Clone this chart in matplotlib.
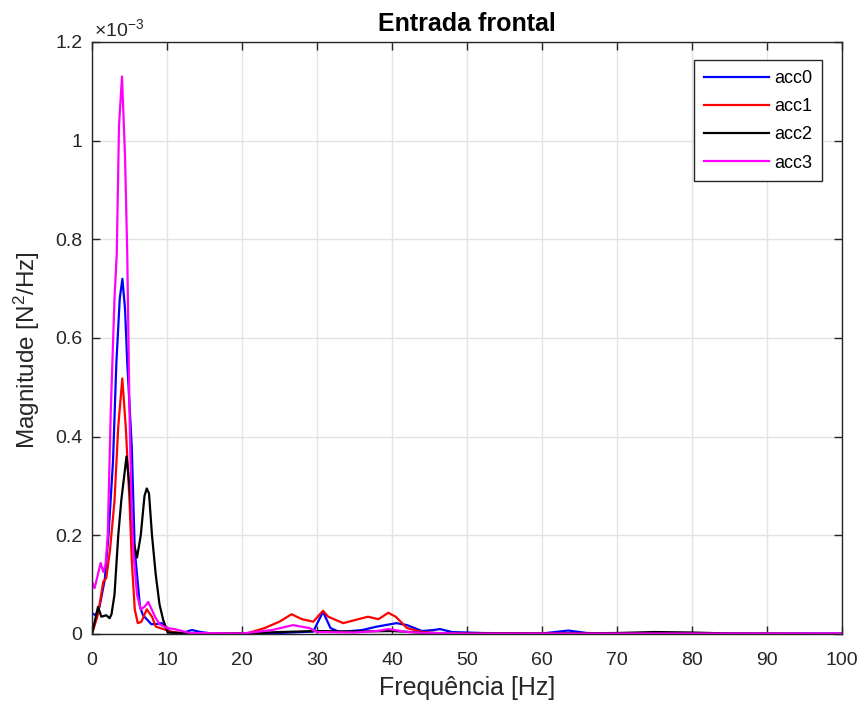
import matplotlib

matplotlib.use("Agg")
import matplotlib.pyplot as plt
from matplotlib.ticker import FuncFormatter, MultipleLocator

plt.rcParams["font.family"] = ["Liberation Sans", "DejaVu Sans"]
plt.rcParams["mathtext.fontset"] = "custom"
plt.rcParams["mathtext.rm"] = "Liberation Sans"
plt.rcParams["mathtext.it"] = "Liberation Sans:italic"

# PSD estimates, magnitude in units of 1e-3 N^2/Hz
f_acc0 = [0, 0.5, 1.0, 1.7, 2.2, 2.8, 3.25, 3.7, 4.05, 4.4, 4.7, 5.3, 5.7, 6.4, 6.8, 7.3,
          7.9, 8.5, 9.3, 10.0, 10.6, 12, 13.3, 14.5, 16, 20, 25, 29.5, 30.8, 31.8, 33, 36,
          38, 40.6, 42, 44, 45.5, 46.4, 48, 52, 60, 63.5, 66, 70, 100]
acc0 = [0.042, 0.038, 0.055, 0.11, 0.2, 0.35, 0.55, 0.68, 0.72, 0.66, 0.55, 0.38, 0.17, 0.055, 0.038, 0.03,
        0.02, 0.02, 0.022, 0.01, 0.002, 0.002, 0.008, 0.004, 0.001, 0.001, 0.002, 0.005, 0.045, 0.012, 0.004, 0.008,
        0.015, 0.022, 0.018, 0.006, 0.008, 0.01, 0.004, 0.002, 0.001, 0.007, 0.002, 0.001, 0.001]

f_acc1 = [0, 0.8, 1.5, 1.9, 2.4, 3.0, 3.5, 4.04, 4.5, 5.0, 5.3, 5.7, 6.1, 6.6, 7.3, 8.0,
          8.5, 9.5, 10.5, 12, 20.6, 23, 25, 26.6, 28, 29.5, 30.8, 31.5, 33.5, 35.5, 36.8, 38.2,
          39.5, 40.5, 42, 44, 47, 100]
acc1 = [0.0, 0.04, 0.106, 0.113, 0.17, 0.27, 0.42, 0.518, 0.42, 0.27, 0.15, 0.05, 0.022, 0.025, 0.05, 0.035,
        0.015, 0.01, 0.005, 0.001, 0.001, 0.012, 0.025, 0.04, 0.03, 0.025, 0.047, 0.035, 0.022, 0.03, 0.035, 0.03,
        0.043, 0.035, 0.012, 0.004, 0.001, 0.0]

f_acc2 = [0, 0.8, 1.25, 1.9, 2.35, 2.6, 3.0, 3.5, 3.9, 4.6, 5.0, 5.5, 6.0, 6.5, 7.0, 7.3,
          7.6, 8.0, 8.5, 9.0, 9.5, 10.1, 15, 20, 25, 30, 35, 40, 45, 60, 70, 75, 80, 85, 100]
acc2 = [0.0, 0.055, 0.035, 0.038, 0.032, 0.04, 0.08, 0.2, 0.27, 0.36, 0.3, 0.19, 0.155, 0.2, 0.28, 0.295,
        0.285, 0.2, 0.12, 0.06, 0.028, 0.003, 0.001, 0.001, 0.004, 0.006, 0.005, 0.006, 0.002, 0.001, 0.002, 0.004, 0.003, 0.001, 0.0]

f_acc3 = [0, 0.35, 1.15, 1.5, 1.8, 2.1, 2.5, 3.0, 3.3, 3.6, 4.0, 4.4, 4.7, 5.0, 5.25, 5.5,
          6.0, 6.5, 7.0, 7.5, 8.4, 9.0, 10, 11, 12, 13, 20, 24, 26.8, 29, 30, 35, 38, 39.5, 42, 45, 50, 100]
acc3 = [0.106, 0.093, 0.144, 0.126, 0.14, 0.2, 0.45, 0.68, 0.77, 1.03, 1.13, 0.97, 0.77, 0.45, 0.27, 0.17,
        0.08, 0.05, 0.055, 0.065, 0.035, 0.02, 0.012, 0.01, 0.006, 0.002, 0.001, 0.008, 0.018, 0.012, 0.004, 0.003, 0.006, 0.01, 0.004, 0.002, 0.001, 0.001]

series = [
    ("acc0", f_acc0, acc0, "#0000ff"),
    ("acc1", f_acc1, acc1, "#ff0000"),
    ("acc2", f_acc2, acc2, "#000000"),
    ("acc3", f_acc3, acc3, "#ff00ff"),
]

fig = plt.figure(figsize=(8.64, 7.10), dpi=100)
ax = fig.add_axes([92 / 864, 76 / 710, 750 / 864, 592 / 710])

for name, f, v, c in series:
    ax.plot(f, [x * 1e-3 for x in v], color=c, linewidth=1.6, label=name)

ax.set_xlim(0, 100)
ax.set_ylim(0, 1.2e-3)
ax.xaxis.set_major_locator(MultipleLocator(10))
ax.yaxis.set_major_locator(MultipleLocator(0.2e-3))
ax.yaxis.set_major_formatter(FuncFormatter(lambda y, _: f"{y * 1e3:g}"))

ax.grid(True, color="#e3e3e3", linewidth=1.0)
ax.set_axisbelow(True)
for s in ax.spines.values():
    s.set_color("#262626")
    s.set_linewidth(1.0)
ax.tick_params(direction="in", length=6, width=1.0, colors="#262626",
               labelsize=14, top=True, right=True)
ax.tick_params(axis="x", pad=13)
ax.tick_params(axis="y", pad=7)

ax.set_xlabel("Frequência [Hz]", fontsize=18, color="#262626", labelpad=5)
ax.set_ylabel("Magnitude [N$^2$/Hz]", fontsize=17.5, color="#262626")
ax.yaxis.set_label_coords(-0.066, 0.48)
ax.set_title("Entrada frontal", fontsize=18, fontweight="bold", pad=8)
ax.text(0.002, 1.004, r"$\times10^{-3}$", transform=ax.transAxes, fontsize=14,
        color="#262626", ha="left", va="bottom")

leg = ax.legend(loc="upper right", bbox_to_anchor=((822 - 92) / 750, (634 - 60) / 592),
                borderaxespad=0, fontsize=13, handlelength=3.6, labelspacing=0.62,
                borderpad=0.55, handletextpad=0.3, fancybox=False, framealpha=1)
leg.get_frame().set_edgecolor("#262626")
leg.get_frame().set_linewidth(1.0)

fig.savefig("out.png", dpi=100)
